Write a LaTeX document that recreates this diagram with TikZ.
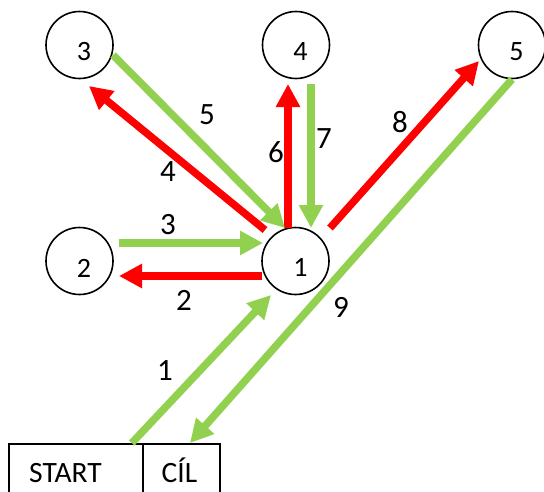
\documentclass[tikz,border=0pt]{standalone}
\usepackage{fontspec}
\setmainfont{Carlito}
\usetikzlibrary{arrows.meta}
\definecolor{mygreen}{HTML}{92D050}
\definecolor{myred}{HTML}{FF0000}
\tikzset{
  circ/.style={draw=black, line width=1.6pt, circle, minimum size=67pt, inner sep=0pt},
  boxn/.style={draw=black, line width=1.8pt, rectangle, inner sep=0pt, anchor=north west},
  clbl/.style={font=\fontsize{28pt}{28pt}\selectfont, inner sep=0pt},
  elbl/.style={font=\fontsize{31pt}{31pt}\selectfont, inner sep=0pt},
  blbl/.style={font=\fontsize{29.5pt}{29.5pt}\selectfont, inner sep=0pt, anchor=base},
  garrow/.style={draw=mygreen, line width=7.5pt, -{Triangle[length=23pt,width=23pt]}},
  rarrow/.style={draw=myred, line width=7.5pt, -{Triangle[length=23pt,width=23pt]}},
}
\begin{document}
\begin{tikzpicture}[x=1pt,y=-1pt]
\clip (0,0) rectangle (544,491);
\fill[white] (0,0) rectangle (544,491);
% circles
\node[circ] (n1) at (295.5,261) {};
\node[circ] (n2) at (79.5,261) {};
\node[circ] (n3) at (79.5,45) {};
\node[circ] (n4) at (296,45) {};
\node[circ] (n5) at (512,45) {};
\node[clbl] (t1) at ([shift={(5,6.5)}]n1.center) {1};
\node[clbl] (t2) at ([shift={(4.5,7)}]n2.center) {2};
\node[clbl] (t3) at ([shift={(4.5,7)}]n3.center) {3};
\node[clbl] (t4) at ([shift={(4.5,6.5)}]n4.center) {4};
\node[clbl] (t5) at ([shift={(4.5,6.5)}]n5.center) {5};
% boxes
\node[boxn, minimum width=134pt, minimum height=70pt] (start) at (8,443) {};
\node[boxn, minimum width=77pt, minimum height=70pt] (cil) at (142,443) {};
\node[blbl] (tstart) at (65.5,482) {START};
\node[blbl] (tcil) at (179.5,482) {CÍL};
% arrows
\draw[garrow] ([shift={(-12,0)}]start.north east) -- ([shift={(-24.5,34)}]n1.center);
\draw[garrow] (n5.south) -- ([shift={(48,0)}]cil.north west);
\draw[rarrow] ([shift={(34.5,-33)}]n1.center) -- ([shift={(-33,16)}]n5.center);
\draw[rarrow] ([shift={(-7.5,-33)}]n1.center) -- ([shift={(-8,39)}]n4.center);
\draw[garrow] ([shift={(15,39)}]n4.center) -- ([shift={(15.5,-33)}]n1.center);
\draw[garrow] ([shift={(33.5,10)}]n3.center) -- ([shift={(-10.5,-33)}]n1.center);
\draw[rarrow] ([shift={(-30.5,-31)}]n1.center) -- ([shift={(9.5,41)}]n3.center);
\draw[garrow] ([shift={(39.5,-18)}]n2.center) -- ([shift={(-32.5,-18)}]n1.center);
\draw[rarrow] ([shift={(-33.5,15)}]n1.center) -- ([shift={(39.5,15)}]n2.center);
% edge labels
\node[elbl] (l1) at (165,371) {1};
\node[elbl] (l2) at (184,300) {2};
\node[elbl] (l3) at (168,225) {3};
\node[elbl] (l4) at (168,172) {4};
\node[elbl] (l5) at (207,115) {5};
\node[elbl] (l6) at (276,152) {6};
\node[elbl] (l7) at (324,139) {7};
\node[elbl] (l8) at (400,122) {8};
\node[elbl] (l9) at (341,307) {9};
\end{tikzpicture}
\end{document}
